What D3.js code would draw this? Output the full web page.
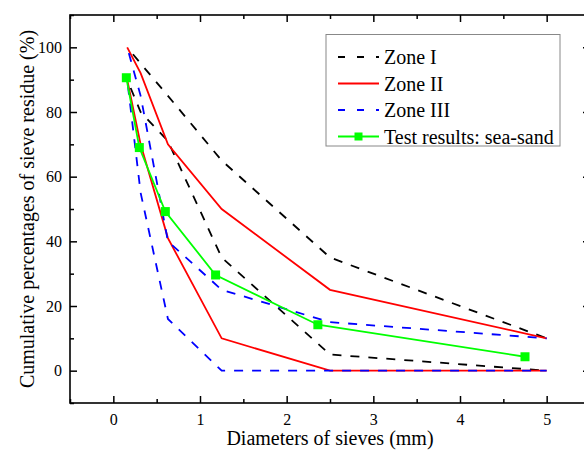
<!DOCTYPE html>
<html>
<head>
<meta charset="utf-8">
<script src="https://cdn.jsdelivr.net/npm/d3@7"></script>
<style>
  body { margin: 0; background: #fff; }
  text { font-family: "Liberation Serif", "Times New Roman", serif; }
</style>
</head>
<body>
<script>
// sieve sizes used for the grading zone limits and for the test
var zoneSieves = [0.16, 0.315, 0.63, 1.25, 2.5, 5];
var zone1Upper = [100, 95, 85, 65, 35, 10];
var zone1Lower = [90, 80, 71, 35, 5, 0];
var zone2Upper = [100, 92, 70, 50, 25, 10];
var zone2Lower = [90, 70, 41, 10, 0, 0];
var zone3Upper = [100, 85, 40, 25, 15, 10];
var zone3Lower = [90, 55, 16, 0, 0, 0];
var testSieves = [0.15, 0.3, 0.6, 1.18, 2.36, 4.75];
var testResidue = [90.6, 69.0, 49.2, 29.6, 14.2, 4.3];

var xTicks = [0, 1, 2, 3, 4, 5];
var yTicks = [0, 20, 40, 60, 80, 100];
var legendNames = ["Zone I", "Zone II", "Zone III", "Test results: sea-sand"];

var W = 584, H = 455;
var margin = {top: 15, left: 70},
  width = 520,
  height = 388;

var svg = d3.select("body").append("svg")
  .attr("width", W)
  .attr("height", H)
  .style("overflow", "hidden");

var g = svg.append("g")
  .attr("transform", "translate(" + margin.left + "," + margin.top + ")");

var x = d3.scaleLinear().domain([-0.5, 5.5]).range([0, width]);
var y = d3.scaleLinear().domain([-10, 110]).range([height, 0]);

function pairs(xs, ys) {
  return xs.map(function(v, i) { return [v, ys[i]]; });
}

var line = d3.line()
  .x(function(d) { return x(d[0]); })
  .y(function(d) { return y(d[1]); });

// axes: major ticks with labels, minor ticks without, all pointing inward
function styleAxis(sel) {
  sel.attr("font-family", "Liberation Serif, serif").attr("font-size", 16);
  sel.select(".domain").remove();
  sel.selectAll("line").attr("stroke", "#000").attr("stroke-width", 1.5);
  sel.selectAll("text").attr("fill", "#000")
    .style("font-family", "'Liberation Serif', serif");
}

var xMinor = d3.range(-0.5, 5.51, 0.5).filter(function(v) { return Math.abs(v % 1) > 0.1; });
var yMinor = d3.range(-10, 111, 20);

g.append("g").attr("transform", "translate(0," + height + ")")
  .call(d3.axisBottom(x).tickValues(xTicks).tickFormat(d3.format("d")).tickSize(-7).tickPadding(11))
  .call(styleAxis);
g.append("g").attr("transform", "translate(0," + height + ")")
  .call(d3.axisBottom(x).tickValues(xMinor).tickFormat("").tickSize(-4))
  .call(styleAxis);
g.append("g")
  .call(d3.axisTop(x).tickValues(xTicks).tickFormat("").tickSize(-7))
  .call(styleAxis);
g.append("g")
  .call(d3.axisTop(x).tickValues(xMinor).tickFormat("").tickSize(-4))
  .call(styleAxis);

g.append("g")
  .call(d3.axisLeft(y).tickValues(yTicks).tickFormat(d3.format("d")).tickSize(-7).tickPadding(8))
  .call(styleAxis);
g.append("g")
  .call(d3.axisLeft(y).tickValues(yMinor).tickFormat("").tickSize(-4))
  .call(styleAxis);
g.append("g").attr("transform", "translate(" + width + ",0)")
  .call(d3.axisRight(y).tickValues(yTicks).tickFormat("").tickSize(-7))
  .call(styleAxis);
g.append("g").attr("transform", "translate(" + width + ",0)")
  .call(d3.axisRight(y).tickValues(yMinor).tickFormat("").tickSize(-4))
  .call(styleAxis);

// frame
g.append("rect")
  .attr("width", width)
  .attr("height", height)
  .attr("fill", "none")
  .attr("stroke", "#000")
  .attr("stroke-width", 1.6);

// zone limits
var zones = [
  {up: zone1Upper, lo: zone1Lower, color: "#000", dash: "9,9", off: 9},
  {up: zone2Upper, lo: zone2Lower, color: "#ff0000", dash: null, off: 0},
  {up: zone3Upper, lo: zone3Lower, color: "#0000ff", dash: "9,9", off: 12}
];

zones.forEach(function(z) {
  [z.up, z.lo].forEach(function(vals) {
    g.append("path")
      .datum(pairs(zoneSieves, vals))
      .attr("d", line)
      .attr("fill", "none")
      .attr("stroke", z.color)
      .attr("stroke-width", 1.8)
      .attr("stroke-dasharray", z.dash)
      .attr("stroke-dashoffset", z.off);
  });
});

// test result
var testData = pairs(testSieves, testResidue);
g.append("path")
  .datum(testData)
  .attr("d", line)
  .attr("fill", "none")
  .attr("stroke", "#00ff00")
  .attr("stroke-width", 1.8);

g.selectAll(".pt")
  .data(testData)
  .enter().append("rect")
  .attr("x", function(d) { return x(d[0]) - 4.5; })
  .attr("y", function(d) { return y(d[1]) - 4.5; })
  .attr("width", 9)
  .attr("height", 9)
  .attr("fill", "#00ff00");

// axis titles
svg.append("text")
  .attr("x", margin.left + width / 2)
  .attr("y", 445)
  .attr("text-anchor", "middle")
  .attr("font-size", 20)
  .text("Diameters of sieves (mm)");

svg.append("text")
  .attr("transform", "translate(34," + (margin.top + height / 2) + ") rotate(-90)")
  .attr("text-anchor", "middle")
  .attr("font-size", 20)
  .text("Cumulative percentages of sieve residue (%)");

// legend
var legend = svg.append("g");
legend.append("rect")
  .attr("x", 326)
  .attr("y", 34.5)
  .attr("width", 234)
  .attr("height", 111.5)
  .attr("fill", "#fff")
  .attr("stroke", "#888")
  .attr("stroke-width", 1);

var legendStyles = [
  {color: "#000", dash: "7,12"},
  {color: "#ff0000", dash: null},
  {color: "#0000ff", dash: "7,12"},
  {color: "#00ff00", dash: null, marker: true}
];

legendNames.forEach(function(name, i) {
  var cy = 57 + i * 26.5;
  var s = legendStyles[i];
  legend.append("line")
    .attr("x1", 338).attr("x2", 379)
    .attr("y1", cy).attr("y2", cy)
    .attr("stroke", s.color)
    .attr("stroke-width", 1.8)
    .attr("stroke-dasharray", s.dash);
  if (s.marker) {
    legend.append("rect")
      .attr("x", 358.5 - 4).attr("y", cy - 4)
      .attr("width", 8).attr("height", 8)
      .attr("fill", s.color);
  }
  legend.append("text")
    .attr("x", 384)
    .attr("y", cy + 7)
    .attr("font-size", 20)
    .text(name);
});
</script>
</body>
</html>
